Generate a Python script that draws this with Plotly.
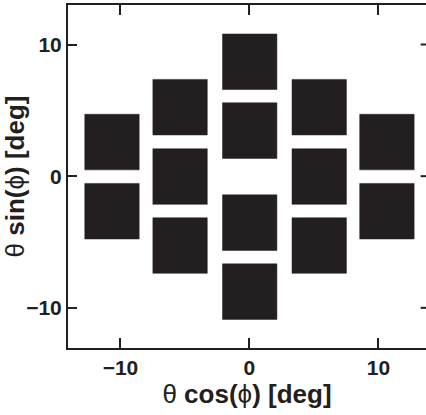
import plotly.graph_objects as go

# ── STYLE ─────────────────────────────────────────────────
INK   = "#231F20"
FONT  = "Liberation Sans, Arial, sans-serif"

# ── DATA ──────────────────────────────────────────────────
# centres of the 16 square patches [deg]
patch_x = [-10.66, -10.66,
           -5.38, -5.38, -5.38,
           0.02, 0.02, 0.02, 0.02,
           5.41, 5.41, 5.41,
           10.66, 10.66]
patch_y = [2.59, -2.66,
           5.24, -0.03, -5.27,
           8.69, 3.46, -3.53, -8.77,
           5.24, -0.03, -5.27,
           2.59, -2.66]
patch_side = 4.22

x_ticks = [-10, 0, 10]
y_ticks = [-10, 0, 10]
tick_text = ["<b>−10</b>", "<b>0</b>", "<b>10</b>"]

# ── BUILD OUTLINES ────────────────────────────────────────
h = patch_side / 2
xs, ys = [], []
for cx, cy in zip(patch_x, patch_y):
    xs += [cx - h, cx + h, cx + h, cx - h, cx - h, None]
    ys += [cy - h, cy - h, cy + h, cy + h, cy - h, None]

fig = go.Figure()
fig.add_trace(go.Scatter(
    x=xs, y=ys,
    mode="lines",
    fill="toself",
    fillcolor=INK,
    line=dict(color=INK, width=0.5),
    hoverinfo="skip",
    showlegend=False,
))

fig.update_layout(
    width=426, height=415,
    margin=dict(l=68, r=0, t=5, b=67),
    plot_bgcolor="white",
    paper_bgcolor="white",
    font=dict(family=FONT, color=INK, size=21),
    showlegend=False,
)

fig.update_xaxes(
    range=[-14.07, 13.69],
    tickvals=x_ticks, ticktext=tick_text,
    ticks="inside", ticklen=10, tickwidth=2, tickcolor=INK,
    showline=True, linewidth=2, linecolor=INK, mirror="ticks",
    showgrid=False, zeroline=False, automargin=False,
    tickfont=dict(size=21, color=INK),
    title=dict(text="θ <b>cos(</b>ϕ<b>) [deg]</b>",
               font=dict(size=26, color=INK), standoff=2),
)
fig.update_yaxes(
    range=[-13.05, 13.0],
    tickvals=y_ticks, ticktext=tick_text,
    ticks="inside", ticklen=9, tickwidth=2, tickcolor=INK,
    showline=True, linewidth=2, linecolor=INK, mirror=False,
    showgrid=False, zeroline=False, automargin=False,
    tickfont=dict(size=21, color=INK),
    title=dict(text="θ <b>sin(</b>ϕ<b>) [deg]</b>",
               font=dict(size=26, color=INK), standoff=0),
)

# right-hand ticks only (the frame's right edge sits past the page)
for yt in y_ticks:
    fig.add_shape(type="line", xref="paper", yref="y",
                  x0=0.985, x1=1.0, y0=yt, y1=yt,
                  line=dict(color=INK, width=2))

# page body has a default 8px margin; drop it so the figure sits at 0,0
fig.write_html("out.html",
               config={"displayModeBar": False},
               post_script="document.body.style.margin='0';")
